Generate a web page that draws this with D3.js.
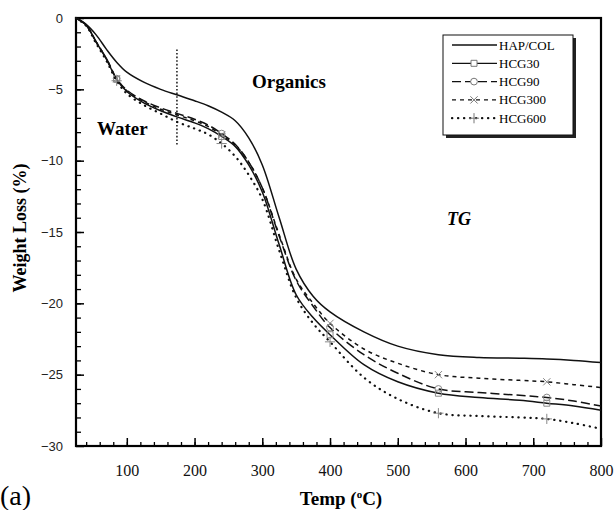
<!DOCTYPE html>
<html>
<head>
<meta charset="utf-8">
<script src="https://cdn.jsdelivr.net/npm/d3@7"></script>
<style>
  body { margin: 0; background: #fff; }
  svg { display: block; }
</style>
</head>
<body>
<div id="chart"></div>
<script>
// Temperature grid (°C) shared by all curves
const temps = [25, 40, 55, 70, 85, 100, 125, 150, 175, 200, 220, 240, 260, 280, 300, 325, 350, 375, 400, 450, 500, 560, 620, 680, 720, 760, 800];

// Weight loss (%)
const hapCol = [0, -0.45, -1.2, -2.2, -3.1, -3.8, -4.5, -5.0, -5.4, -5.8, -6.15, -6.6, -7.2, -8.4, -10.3, -14.0, -17.6, -19.5, -20.6, -22.0, -23.0, -23.6, -23.8, -23.85, -23.9, -24.0, -24.15];
const hcg30 = [0, -0.5, -1.7, -2.9, -4.3, -5.15, -5.95, -6.5, -6.95, -7.35, -7.75, -8.3, -9.0, -10.3, -12.2, -15.9, -19.4, -21.0, -22.2, -24.3, -25.5, -26.3, -26.6, -26.8, -27.0, -27.2, -27.5];
const hcg90 = [0, -0.5, -1.7, -2.85, -4.25, -5.05, -5.8, -6.3, -6.7, -7.1, -7.5, -8.1, -8.85, -10.1, -11.9, -15.3, -18.4, -20.2, -21.7, -23.6, -24.9, -26.0, -26.25, -26.45, -26.6, -26.85, -27.2];
const hcg300 = [0, -0.5, -1.7, -2.85, -4.25, -5.1, -5.85, -6.4, -6.8, -7.2, -7.6, -8.2, -8.9, -10.1, -11.9, -15.2, -18.3, -20.0, -21.4, -23.2, -24.2, -25.0, -25.25, -25.4, -25.5, -25.7, -25.9];
const hcg600 = [0, -0.55, -1.8, -3.0, -4.4, -5.3, -6.1, -6.7, -7.3, -7.75, -8.15, -8.8, -9.7, -11.0, -12.7, -16.3, -19.6, -21.4, -22.7, -25.2, -26.7, -27.7, -27.9, -28.0, -28.1, -28.4, -28.8];

// Temperatures where the symbols sit on the curves
const markerTemps = [85, 240, 400, 560, 720];

// Tick labels
const xTicks = [100, 200, 300, 400, 500, 600, 700, 800];
const yTicks = [0, -5, -10, -15, -20, -25, -30];

// Water / organics divider
const dividerTemp = 174;
const dividerRange = [-2.2, -9.0];

const seriesNames = ["HAP/COL", "HCG30", "HCG90", "HCG300", "HCG600"];
const seriesValues = [hapCol, hcg30, hcg90, hcg300, hcg600];
const seriesDash = [null, null, "9,4", "4,4", "0.3,5.7"];
const seriesSymbol = [null, "square", "circle", "times", "plus"];

const width = 616, height = 510;
const margin = { top: 18, right: 15, bottom: 64, left: 76 };
const w = width - margin.left - margin.right;
const h = height - margin.top - margin.bottom;
const serif = "'Liberation Serif', 'Times New Roman', serif";
const sans = "'Liberation Sans', Arial, sans-serif";

const svg = d3.select("#chart").append("svg")
    .attr("width", width)
    .attr("height", height);

const g = svg.append("g")
    .attr("transform", `translate(${margin.left},${margin.top})`);

const x = d3.scaleLinear().domain([25, 800]).range([0, w]);
const y = d3.scaleLinear().domain([-30, 0]).range([h, 0]);

// Minor ticks
g.append("g")
    .attr("transform", `translate(0,${h})`)
    .call(d3.axisBottom(x).tickValues(d3.range(40, 800, 20)).tickSize(-4).tickFormat(""))
    .call(a => a.select(".domain").remove())
    .selectAll("line").attr("stroke-width", 1.3);

g.append("g")
    .call(d3.axisLeft(y).tickValues(d3.range(-29, 0, 1)).tickSize(-5).tickFormat(""))
    .call(a => a.select(".domain").remove())
    .selectAll("line").attr("stroke-width", 1.3);

// Major ticks + labels
g.append("g")
    .attr("transform", `translate(0,${h})`)
    .call(d3.axisBottom(x).tickValues(xTicks).tickSize(-8).tickPadding(19))
    .call(a => a.select(".domain").remove())
    .call(a => a.selectAll("line").attr("stroke-width", 1.5))
    .selectAll("text")
    .style("font-family", serif)
    .style("font-size", "16px")
    .attr("fill", "#111");

g.append("g")
    .call(d3.axisLeft(y).tickValues(yTicks).tickSize(-8).tickPadding(13))
    .call(a => a.select(".domain").remove())
    .call(a => a.selectAll("line").attr("stroke-width", 1.5))
    .selectAll("text")
    .style("font-family", sans)
    .style("font-size", "13px")
    .attr("fill", "#222");

// Frame
g.append("rect")
    .attr("width", w)
    .attr("height", h)
    .attr("fill", "none")
    .attr("stroke", "#000")
    .attr("stroke-width", 2.2);

// Divider line
g.append("line")
    .attr("x1", x(dividerTemp)).attr("x2", x(dividerTemp))
    .attr("y1", y(dividerRange[0])).attr("y2", y(dividerRange[1]))
    .attr("stroke", "#222")
    .attr("stroke-width", 1.6)
    .attr("stroke-dasharray", "1.6,2");

// Curves
const line = d3.line()
    .x(d => x(d.t))
    .y(d => y(d.v))
    .curve(d3.curveCatmullRom.alpha(0.5));

const symbolTypes = {
    square: d3.symbolSquare,
    circle: d3.symbolCircle,
    times: d3.symbolTimes || d3.symbolX || d3.symbolCross,
    plus: d3.symbolPlus || d3.symbolCross
};

const isDotted = i => seriesDash[i] === "0.3,5.7";

seriesValues.forEach((vals, i) => {
    const pts = temps.map((t, j) => ({ t: t, v: vals[j] }));
    g.append("path")
        .datum(pts)
        .attr("d", line)
        .attr("fill", "none")
        .attr("stroke", "#111")
        .attr("stroke-width", isDotted(i) ? 2.2 : 1.5)
        .attr("stroke-linecap", isDotted(i) ? "round" : "butt")
        .attr("stroke-dasharray", seriesDash[i]);

    if (seriesSymbol[i]) {
        g.selectAll(null)
            .data(pts.filter(d => markerTemps.includes(d.t)))
            .enter()
            .append("path")
            .attr("transform", d => `translate(${x(d.t)},${y(d.v)})`)
            .attr("d", d3.symbol().type(symbolTypes[seriesSymbol[i]]).size(36))
            .attr("fill", "none")
            .attr("stroke", "#888")
            .attr("stroke-width", 1);
    }
});

// Annotations
g.append("text")
    .attr("x", 252 - margin.left).attr("y", 88 - margin.top)
    .text("Organics")
    .style("font-family", serif).style("font-size", "19px").style("font-weight", "bold");

g.append("text")
    .attr("x", 97 - margin.left).attr("y", 135 - margin.top)
    .text("Water")
    .style("font-family", serif).style("font-size", "19px").style("font-weight", "bold");

g.append("text")
    .attr("x", 447 - margin.left).attr("y", 225 - margin.top)
    .text("TG")
    .style("font-family", serif).style("font-size", "18px")
    .style("font-weight", "bold").style("font-style", "italic");

// Legend
const legend = svg.append("g").attr("transform", "translate(443,35)");
legend.append("rect")
    .attr("x", 3).attr("y", 3)
    .attr("width", 130).attr("height", 100)
    .attr("fill", "#222");
legend.append("rect")
    .attr("width", 130).attr("height", 100)
    .attr("fill", "#fff")
    .attr("stroke", "#111")
    .attr("stroke-width", 1);

seriesNames.forEach((name, i) => {
    const ly = 10 + i * 18.3;
    const item = legend.append("g").attr("transform", `translate(0,${ly})`);
    item.append("line")
        .attr("x1", 9).attr("x2", 54)
        .attr("stroke", "#111")
        .attr("stroke-width", isDotted(i) ? 2.2 : 1.3)
        .attr("stroke-linecap", isDotted(i) ? "round" : "butt")
        .attr("stroke-dasharray", seriesDash[i]);
    if (seriesSymbol[i]) {
        item.append("path")
            .attr("transform", "translate(31,0)")
            .attr("d", d3.symbol().type(symbolTypes[seriesSymbol[i]]).size(36))
            .attr("fill", "#fff")
            .attr("stroke", "#777")
            .attr("stroke-width", 1);
    }
    item.append("text")
        .attr("x", 56).attr("dy", "0.35em")
        .text(name)
        .style("font-family", serif).style("font-size", "13px");
});

// Axis titles
svg.append("text")
    .attr("transform", "translate(26,228) rotate(-90)")
    .attr("text-anchor", "middle")
    .text("Weight Loss (%)")
    .style("font-family", serif).style("font-size", "18px").style("font-weight", "bold");

const xTitle = svg.append("text")
    .attr("x", 341).attr("y", 505)
    .attr("text-anchor", "middle")
    .style("font-family", serif).style("font-size", "19px").style("font-weight", "bold");
xTitle.append("tspan").text("Temp (");
xTitle.append("tspan").attr("dy", -7).style("font-size", "11px").text("o");
xTitle.append("tspan").attr("dy", 7).text("C)");

svg.append("text")
    .attr("x", 0).attr("y", 505)
    .text("(a)")
    .style("font-family", serif).style("font-size", "28px");
</script>
</body>
</html>
